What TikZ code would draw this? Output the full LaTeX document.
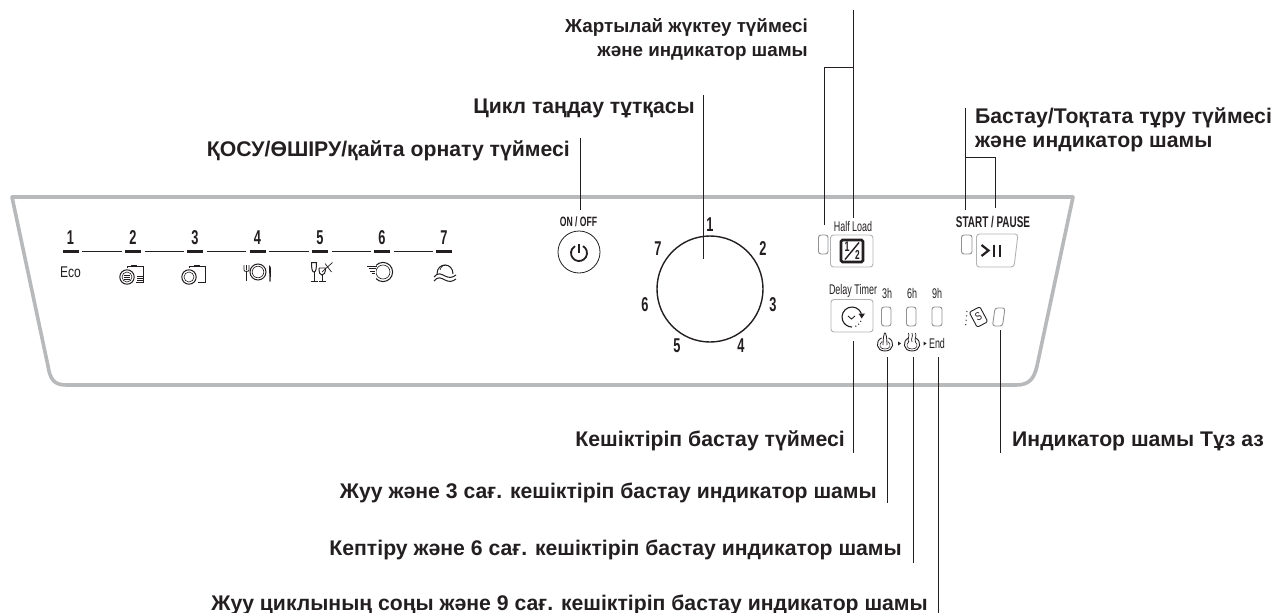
\documentclass[tikz,border=0pt]{standalone}
\usepackage{fontspec}
\setmainfont{Liberation Sans}
\newfontfamily\narrowfont[FakeStretch=0.64]{Liberation Sans}
\newfontfamily\narrowbold[FakeStretch=0.64]{Liberation Sans Bold}
\newfontfamily\midfont[FakeStretch=0.78]{Liberation Sans}
\definecolor{ink}{HTML}{231F20}
\definecolor{panelgrey}{HTML}{B7B9BB}
\definecolor{softgrey}{HTML}{8F9193}
\tikzset{
  callout/.style={font=\fontsize{21.2}{22}\selectfont\bfseries,text=ink,inner sep=0pt},
  callout small/.style={font=\fontsize{18.8}{20}\selectfont\bfseries,text=ink,inner sep=0pt},
  leader/.style={draw=ink,line width=0.9pt},
  bignum/.style={font=\narrowbold\fontsize{20}{20}\selectfont,text=ink,inner sep=0pt},
  smalltxt/.style={font=\narrowfont\fontsize{14}{16}\selectfont,text=ink,inner sep=0pt},
  boldtxt/.style={font=\narrowbold\fontsize{13.5}{16}\selectfont,text=ink,inner sep=0pt},
  led/.style={draw=softgrey,line width=0.9pt,rounded corners=2.5pt},
  keybox/.style={draw=softgrey!70,line width=0.9pt,rounded corners=3pt},
  icon/.style={draw=ink,line width=1pt},
  seg/.style={draw=ink,line width=3pt},
  thin seg/.style={draw=ink,line width=1pt},
}
\begin{document}
\begin{tikzpicture}[x=1pt,y=-1pt]
\useasboundingbox (0,0) rectangle (1277,613);
% panel outline
\draw[panelgrey,line width=3.6pt,line join=round]
  (12,197) -- (1073,197) -- (1037,366) .. controls (1034,379) and (1029,385) .. (1016,385)
  -- (66,385) .. controls (54,385) and (50,379) .. (48,366) -- cycle;

% callout texts
\node[callout small,anchor=base east] (halfA) at (808,32) {Жартылай жүктеу түймесі};
\node[callout small,anchor=base east] (halfB) at (808,56) {және индикатор шамы};
\node[callout,anchor=base east] (cycle) at (695,113) {Цикл таңдау тұтқасы};
\node[callout,anchor=base east] (onoff) at (570,156) {ҚОСУ/ӨШІРУ/қайта орнату түймесі};
\node[callout,anchor=base west] (startA) at (975,123) {Бастау/Тоқтата тұру түймесі};
\node[callout,anchor=base west] (startB) at (975,147) {және индикатор шамы};
\node[callout,anchor=base east] (delay) at (845,446) {Кешіктіріп бастау түймесі};
\node[callout,anchor=base west] (salt) at (1012,446) {Индикатор шамы Тұз аз};
\node[callout,anchor=base east] (w3) at (877,498) {Жуу және 3 сағ. кешіктіріп бастау индикатор шамы};
\node[callout,anchor=base east] (d6) at (902,555) {Кептіру және 6 сағ. кешіктіріп бастау индикатор шамы};
\node[callout,anchor=base east] (e9) at (928,610) {Жуу циклының соңы және 9 сағ. кешіктіріп бастау индикатор шамы};

% leader ends
\coordinate (hTop) at (853,10);
\coordinate (hJoin) at (853,67);
\coordinate (hCorner) at (824,67);
\coordinate (hLed) at (824,225);
\coordinate (hKey) at (853,218);
\coordinate (cTop) at (703,95);
\coordinate (cEnd) at (703,259);
\coordinate (oTop) at (580,138);
\coordinate (oEnd) at (580,210);
\coordinate (sTop) at (965,108);
\coordinate (sJoin) at (965,157);
\coordinate (sCorner) at (995,157);
\coordinate (sKey) at (995,208);
\coordinate (sLed) at (965,210);
\coordinate (dA) at (853,341);
\coordinate (dB) at (853,453);
\coordinate (wA) at (887,357);
\coordinate (wB) at (887,503);
\coordinate (kA) at (913,357);
\coordinate (kB) at (913,563);
\coordinate (eA) at (938,357);
\coordinate (eB) at (938,613);
\coordinate (lA) at (1000,330);
\coordinate (lB) at (1000,453);
\draw[leader] (hTop) -- (hKey);
\draw[leader] (hJoin) -- (hCorner) -- (hLed);
\draw[leader] (cTop) -- (cEnd);
\draw[leader] (oTop) -- (oEnd);
\draw[leader] (sTop) -- (sLed);
\draw[leader] (sJoin) -- (sCorner) -- (sKey);
\draw[leader] (dA) -- (dB);
\draw[leader] (wA) -- (wB);
\draw[leader] (kA) -- (kB);
\draw[leader] (eA) -- (eB);
\draw[leader] (lA) -- (lB);

% programme strip
\foreach \n/\x in {1/70.5,2/133,3/195,4/257.5,5/320,6/382,7/444}{
  \node[bignum] (p\n) at (\x,237.5) {\n};
  \draw[seg] (\x-8,251) -- (\x+8,251);
}
\foreach \x in {70.5,133,195,257.5,320,382}{
  \draw[thin seg] (\x+11.5,251) -- (\x+51,251);
}
\node[inner sep=0pt,text=ink,font=\midfont\fontsize{15.5}{16}\selectfont] (eco) at (70.5,272.5) {Eco};
% icon 2
\draw[icon] (127,277) circle (7.2);
\draw[icon,line width=0.6pt] (127,277) circle (5);
\draw[icon,line width=0.7pt] (123.5,275) -- (130,275) (123.5,277) -- (130,277) (123.5,279) -- (130,279);
\draw[icon] (127,268) -- (127,266) -- (143,266) -- (143,282) -- (136,282);
\fill[ink] (131,264.5) rectangle (137,266.5);
\draw[icon,line width=0.7pt] (137,276.5) -- (142.5,276.5) (137,278.5) -- (142.5,278.5) (137,280.5) -- (142.5,280.5);
% icon 3
\draw[icon] (189,277) circle (7.2);
\draw[icon,line width=0.6pt] (189,277) circle (5);
\draw[icon] (189,268) -- (189,266) -- (205,266) -- (205,282) -- (198,282);
\fill[ink] (194,264.5) rectangle (199.5,266.5);
% icon 4
\draw[icon] (258,272) circle (8);
\draw[icon,line width=0.6pt] (258,272) circle (5.8);
\draw[icon,line width=1.1pt] (246.5,272) -- (246.5,281);
\draw[icon,line width=0.8pt] (244,265) -- (244,270) .. controls (244,272) and (249,272) .. (249,270) -- (249,265) (246.5,265) -- (246.5,270);
\fill[ink] (269,265) .. controls (271,266) and (271.5,270) .. (271,272) -- (270.5,281.5) -- (269.5,281.5) -- cycle;
% icon 5
\draw[icon] (311.5,262.5) -- (316.5,262.5) .. controls (316.5,268) and (316,272) .. (314,272) .. controls (312,272) and (311.5,268) .. (311.5,262.5) -- cycle;
\draw[icon] (314,272) -- (314,281) (310.5,281) -- (318,281);
\draw[icon] (319,268) .. controls (319,273) and (320,275) .. (322,275) .. controls (324,275) and (325.5,273) .. (325.5,268);
\draw[icon] (322,275) -- (322,281) (319,281) -- (326,281);
\draw[icon,line width=0.7pt] (319,268) -- (325.5,268) (322,272) -- (332.5,262.5) (325,263.5) -- (331.5,272);
% icon 6
\draw[icon] (383,272) circle (9.6);
\draw[icon,line width=0.6pt] (383,272) circle (7);
\fill[white] (370,264) rectangle (376,280);
\draw[icon,line width=1pt] (367,266) -- (377,266) (368.5,268.5) -- (376,268.5) (370,271) -- (375,271) (371.5,273.5) -- (375,273.5);
% icon 7
\draw[icon] (437,274) .. controls (437,262) and (453,262) .. (453,274);
\draw[icon,line width=0.6pt] (440,270) .. controls (441,266) and (444,265) .. (446,265);
\draw[icon] (434,277) .. controls (438,272) and (441,274) .. (445,276) .. controls (449,278) and (452,278) .. (456,275);
\draw[icon] (434,281) .. controls (438,276) and (441,278) .. (445,280) .. controls (449,282) and (452,282) .. (456,279);

% on/off
\node[boldtxt] (onofflbl) at (578.5,221.5) {ON / OFF};
\draw[ink,line width=0.8pt] (579,252) circle (21);
\draw[ink,line width=1.8pt] (583,246.1) arc[start angle=-60,end angle=240,radius=8];
\draw[ink,line width=1.8pt] (579,244) -- (579,253);

% dial
\draw[ink,line width=1.4pt] (710,289) circle (53);
\node[bignum] (d1) at (710,225) {1};
\node[bignum] (d2) at (763,249) {2};
\node[bignum] (d3) at (773,305) {3};
\node[bignum] (d4) at (741,346) {4};
\node[bignum] (d5) at (677,346) {5};
\node[bignum] (d6n) at (645,305) {6};
\node[bignum] (d7) at (658,249) {7};

% half load
\node[smalltxt] (hl) at (853,226) {Half Load};
\draw[led] (818.5,235) rectangle (828,254);
\draw[keybox] (830.5,235) rectangle (873,267);
\draw[ink,line width=2.6pt,rounded corners=1.5pt] (841,240) rectangle (863,262);
\node[inner sep=0pt,font=\narrowbold\fontsize{14}{14}\selectfont,text=ink] (h1) at (847,246.5) {1};
\draw[ink,line width=1.4pt] (845,259.5) -- (859,242.5);
\node[inner sep=0pt,font=\narrowbold\fontsize{13}{13}\selectfont,text=ink] (h2) at (857.5,255) {2};

% start/pause
\node[boldtxt,font=\narrowbold\fontsize{15.5}{16}\selectfont] (sp) at (993,222) {START / PAUSE};
\draw[led] (961.5,235) rectangle (972,254);
\draw[keybox] (976.5,234) -- (1018,234) -- (1014,267) -- (976.5,267) -- cycle;
\draw[ink,line width=2.2pt] (981.5,245) -- (988.5,250.5) -- (981.5,256);
\draw[ink,line width=2.4pt] (994,244.5) -- (994,256.5) (1000,244.5) -- (1000,256.5);

% delay timer
\node[smalltxt] (dt) at (853,291) {Delay Timer};
\draw[keybox] (831,299.5) rectangle (873,332);
\draw[icon,line width=1.1pt] (861.4,313.6) arc[start angle=-20,end angle=-270,radius=10];
\draw[icon,line width=0.9pt] (848,316) -- (851.5,319) -- (855,316);
\fill[ink] (858.5,313.5) -- (865,313.5) -- (861.7,318.5) -- cycle;
\draw[ink,line width=1pt,dash pattern=on 1pt off 2.5pt] (855.4,326.4) arc[start angle=70,end angle=15,radius=10];
\node[smalltxt] (h3) at (887,293.5) {3h};
\node[smalltxt] (h6) at (912,293.5) {6h};
\node[smalltxt] (h9) at (937,293.5) {9h};
\draw[led] (881.5,307) rectangle (891,326);
\draw[led] (906.5,307) rectangle (916,326);
\draw[led] (932,307) rectangle (942,326);
% hands
\foreach \x in {885,912}{
  \draw[icon,line width=0.9pt] (\x-3.5,338) .. controls (\x-10,341) and (\x-9,351) .. (\x,351) .. controls (\x+9,351) and (\x+10,341) .. (\x+3.5,338);
  \draw[icon,line width=0.6pt] (\x-3,341.5) .. controls (\x-7,345) and (\x-5,349) .. (\x,349) .. controls (\x+5,349) and (\x+7,345) .. (\x+3,341.5);
}
\draw[icon,line width=0.8pt] (883,345) .. controls (883,338) and (884,333) .. (885,333) .. controls (886,333) and (887,338) .. (887,345);
\draw[icon,line width=0.7pt] (908.5,342) .. controls (907,338) and (910,337) .. (908.5,333) (912,342) .. controls (910.5,338) and (913.5,337) .. (912,333) (915.5,342) .. controls (914,338) and (917,337) .. (915.5,333);
\fill[ink] (898,341.5) -- (901,343.5) -- (898,345.5) -- cycle;
\fill[ink] (923.5,341.5) -- (926.5,343.5) -- (923.5,345.5) -- cycle;
\node[smalltxt] (endl) at (937,343.5) {End};

% salt
\draw[ink,line width=1pt,dash pattern=on 1pt off 3.4pt] (967,311) -- (965.5,327);
\node[draw=ink,line width=0.9pt,rounded corners=2pt,rotate=28,minimum width=12pt,minimum height=17pt,inner sep=0pt,font=\midfont\fontsize{11.5}{12}\selectfont,text=ink] (sa) at (978.5,317) {S};
\draw[led] (995,308) -- (1005,308) -- (1002.5,326) -- (992.5,326) -- cycle;
\end{tikzpicture}
\end{document}
